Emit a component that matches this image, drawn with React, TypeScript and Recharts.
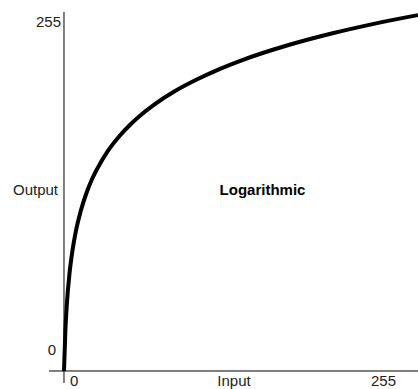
import {
  LineChart,
  Line,
  XAxis,
  YAxis,
  ReferenceLine,
  ReferenceDot,
} from "recharts";

const inputs = [0, 1, 2, 4, 6, 8, 12, 16, 20, 24, 32, 40, 48, 56, 64, 80, 96, 112, 128, 160, 192, 224, 255];
const outputs = [
  0, 29, 47, 70.2, 85.6, 97.3, 114.4, 127, 137, 145, 158.2, 168.4, 176.8, 184, 190.2, 200.6, 209, 216.3, 222.6,
  233, 241.6, 248.9, 255,
];

const xTicks = [0, 127.5, 255];
const xTickLabels = ["0", "Input", "255"];
const yTicks = [0, 127.5, 255];
const yTickLabels = ["0", "Output", "255"];
const curveLabel = "Logarithmic";

const data = inputs.map((x, i) => ({ input: x, output: outputs[i] }));

const font = "'Liberation Sans', Arial, sans-serif";

// label nudges so the text sits where the original put it
const xShift = [
  { dx: 6, anchor: "start" },
  { dx: -7, anchor: "middle" },
  { dx: -10, anchor: "end" },
];
const yShift = [
  { dx: 7, dy: -21 },
  { dx: 9, dy: -4 },
  { dx: 12, dy: 6 },
];

function XTick(props: any) {
  const { x, y, index } = props;
  const s = xShift[index];
  return (
    <text
      x={x + s.dx}
      y={y - 3}
      textAnchor={s.anchor}
      dominantBaseline="central"
      fontSize={15}
      fontFamily={font}
      fill="#222"
    >
      {xTickLabels[index]}
    </text>
  );
}

function YTick(props: any) {
  const { x, y, index } = props;
  const s = yShift[index];
  return (
    <text
      x={x + s.dx}
      y={y + s.dy}
      textAnchor="end"
      dominantBaseline="central"
      fontSize={15}
      fontFamily={font}
      fill="#222"
    >
      {yTickLabels[index]}
    </text>
  );
}

export default function App() {
  return (
    <div style={{ position: "absolute", left: 0, top: 0, width: 418, height: 389, background: "#fff" }}>
      <LineChart width={418} height={389} data={data} margin={{ top: 12, right: 0, bottom: 0, left: 0 }}>
        <XAxis
          type="number"
          dataKey="input"
          domain={[-10.8, 255]}
          ticks={xTicks}
          axisLine={false}
          tickLine={false}
          tickSize={0}
          tickMargin={0}
          height={6}
          tick={<XTick />}
          allowDataOverflow
        />
        <YAxis
          type="number"
          domain={[-8.6, 257.2]}
          ticks={yTicks}
          axisLine={false}
          tickLine={false}
          tickSize={0}
          tickMargin={0}
          width={49}
          tick={<YTick />}
          allowDataOverflow
        />
        <ReferenceLine x={0} stroke="#000" strokeWidth={1} />
        <ReferenceLine y={0} stroke="#000" strokeWidth={1} />
        <Line
          type="monotone"
          dataKey="output"
          stroke="#000"
          strokeWidth={4}
          dot={false}
          activeDot={false}
          isAnimationActive={false}
        />
        <ReferenceDot
          x={143}
          y={130}
          r={0}
          fill="none"
          stroke="none"
          label={{
            value: curveLabel,
            position: "center",
            fontSize: 15,
            fontWeight: "bold",
            fontFamily: font,
            fill: "#000",
          }}
        />
      </LineChart>
    </div>
  );
}
